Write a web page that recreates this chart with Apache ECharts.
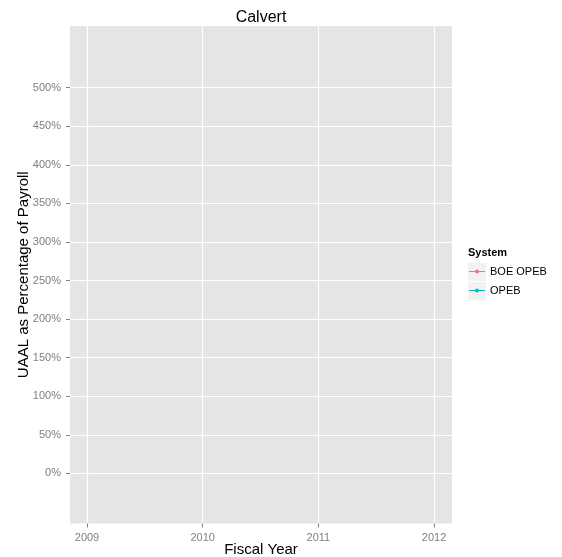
<!DOCTYPE html>
<html>
<head>
<meta charset="utf-8">
<script src="https://cdn.jsdelivr.net/npm/echarts@6/dist/echarts.min.js"></script>
<style>
html,body{margin:0;padding:0;background:#fff;}
#chart{width:562px;height:557px;}
</style>
</head>
<body>
<div id="chart"></div>
<script>
// ---- data (no visible marks in the reference: values missing) ----
var years = [2009, 2010, 2011, 2012];
var boeOpebValues = [null, null, null, null];
var opebValues = [null, null, null, null];
var xTickValues = [2009, 2010, 2011, 2012];
var yTickValues = [0, 50, 100, 150, 200, 250, 300, 350, 400, 450, 500];
var seriesNames = ['BOE OPEB', 'OPEB'];
var seriesColors = ['#F8766D', '#00BFC4'];

var FONT = 'Liberation Sans, Arial, Helvetica, sans-serif';
var chart = echarts.init(document.getElementById('chart'), null, {renderer: 'canvas'});

function pairs(xs, ys) {
  return xs.map(function (x, i) { return [x, ys[i]]; });
}

var keyIcon = 'path://M0 1.5H16V2.5H0Z M10 2A2 2 0 1 1 6 2A2 2 0 1 1 10 2Z';

var option = {
  animation: false,
  backgroundColor: '#ffffff',
  title: {
    text: 'Calvert',
    left: 261, top: 10, padding: 0,
    textAlign: 'center',
    textStyle: {fontFamily: FONT, fontSize: 16, fontWeight: 'normal', color: '#000'}
  },
  grid: {
    left: 70, top: 26, width: 382, height: 497.5,
    show: true, backgroundColor: '#E5E5E5', borderWidth: 0,
    containLabel: false, outerBoundsMode: 'none'
  },
  legend: {
    orient: 'vertical',
    left: 469, top: 266, padding: 0,
    itemWidth: 16, itemHeight: 4, itemGap: 8,
    icon: keyIcon,
    data: seriesNames,
    textStyle: {fontFamily: FONT, fontSize: 11, color: '#000'}
  },
  graphic: [
    {type: 'text', left: 468, top: 247,
      style: {text: 'System', font: 'bold 11px ' + FONT, fill: '#000'}},
    {type: 'rect', left: 468, top: 263, z: -1,
      shape: {width: 18, height: 18}, style: {fill: '#F2F2F2'}},
    {type: 'rect', left: 468, top: 282, z: -1,
      shape: {width: 18, height: 18}, style: {fill: '#F2F2F2'}}
  ],
  xAxis: {
    type: 'value',
    min: 2008.853, max: 2012.155,
    name: 'Fiscal Year',
    nameLocation: 'middle',
    nameGap: 19,
    nameMoveOverlap: false,
    nameTextStyle: {fontFamily: FONT, fontSize: 15, color: '#000'},
    axisLine: {show: false, onZero: false},
    axisTick: {show: true, length: 4, customValues: xTickValues,
      lineStyle: {color: '#7F7F7F', width: 1}},
    axisLabel: {customValues: xTickValues, margin: 9,
      fontFamily: FONT, fontSize: 11, color: '#7F7F7F',
      formatter: function (v) { return String(Math.round(v)); }},
    splitLine: {show: true, lineStyle: {color: '#FFFFFF', width: 1.2}}
  },
  yAxis: {
    type: 'value',
    min: -65, max: 580,
    name: 'UAAL as Percentage of Payroll',
    nameLocation: 'middle',
    nameGap: 39,
    nameMoveOverlap: false,
    nameTextStyle: {fontFamily: FONT, fontSize: 15, color: '#000'},
    axisLine: {show: false, onZero: false},
    axisTick: {show: true, length: 4, customValues: yTickValues,
      lineStyle: {color: '#7F7F7F', width: 1}},
    axisLabel: {customValues: yTickValues, margin: 9,
      fontFamily: FONT, fontSize: 11, color: '#7F7F7F',
      formatter: function (v) { return Math.round(v) + '%'; }},
    splitLine: {show: true, lineStyle: {color: '#FFFFFF', width: 1.2}}
  },
  series: [
    {name: seriesNames[0], type: 'line', data: pairs(years, boeOpebValues),
      color: seriesColors[0], symbol: 'circle', symbolSize: 4, connectNulls: false},
    {name: seriesNames[1], type: 'line', data: pairs(years, opebValues),
      color: seriesColors[1], symbol: 'circle', symbolSize: 4, connectNulls: false}
  ]
};
chart.setOption(option);
</script>
</body>
</html>
